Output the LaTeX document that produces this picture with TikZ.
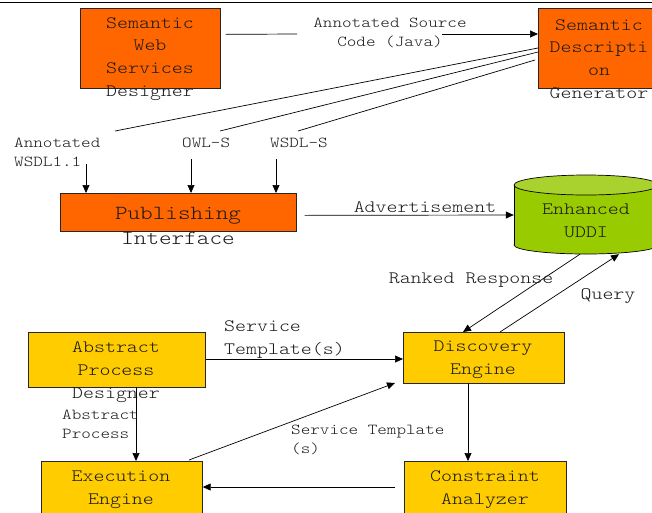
\documentclass[tikz,border=0pt]{standalone}
\usepackage{fontspec}
\newfontfamily\typewriter{lmmonolt10-regular.otf}[FakeStretch=1.2]
\usetikzlibrary{arrows.meta,calc}
\definecolor{orangefill}{HTML}{FF6600}
\definecolor{yellowfill}{HTML}{FFCC00}
\definecolor{uddibody}{HTML}{99CC00}
\definecolor{uddilid}{HTML}{AAD22E}
\definecolor{ink}{HTML}{1A1A1A}
\begin{document}
\begin{tikzpicture}[x=1pt,y=-1pt,
  box/.style={draw=black!85, line width=0.7pt, inner sep=0pt, anchor=north west},
  obox/.style={box, fill=orangefill},
  ybox/.style={box, fill=yellowfill},
  boxtext/.style={font=\typewriter\fontsize{17.4}{22.8}\selectfont, align=center, text=ink, inner sep=0pt},
  bigtext/.style={font=\typewriter\fontsize{20}{25}\selectfont, align=center, text=ink, inner sep=0pt},
  lbl/.style={font=\typewriter\fontsize{15.2}{19}\selectfont, text=ink, inner sep=0pt},
  lblmid/.style={font=\typewriter\fontsize{17.4}{23}\selectfont, text=ink, inner sep=0pt},
  link/.style={line width=0.7pt},
  arr/.style={link, -{Triangle[length=8pt,width=7pt]}}
]
\clip (0,0) rectangle (652,512);
\useasboundingbox (0,0) rectangle (652,512);

% top rule
\coordinate (ruleL) at (0,2);
\coordinate (ruleR) at (652,2);
\draw[link] (ruleL) -- (ruleR);

% ---- boxes ----
\node[obox, minimum width=140pt, minimum height=80pt] (swsd) at (80,8) {};
\node[boxtext] (swsdT) at (150,59) {Semantic\\Web\\Services\\Designer};

\node[obox, minimum width=124pt, minimum height=80pt] (sdg) at (538,8) {};
\node[boxtext] (sdgT) at (599,59) {Semantic\\Descripti\\on\\Generator};

\node[obox, minimum width=236pt, minimum height=38pt] (pub) at (60,193) {};
\node[bigtext] (pubT) at (178,226) {Publishing\\Interface};

\node[ybox, minimum width=161pt, minimum height=51pt] (disc) at (403,332) {};
\node[boxtext] (discT) at (483,360) {Discovery\\Engine};

\node[ybox, minimum width=177pt, minimum height=55pt] (apd) at (28,332) {};
\node[boxtext] (apdT) at (116,372) {Abstract\\Process\\Designer};

\node[ybox, minimum width=161pt, minimum height=60pt] (exec) at (41,461) {};
\node[boxtext] (execT) at (121,490) {Execution\\Engine};

\node[ybox, minimum width=162pt, minimum height=60pt] (cons) at (404,461) {};
\node[boxtext] (consT) at (485,490) {Constraint\\Analyzer};

% ---- Enhanced UDDI cylinder ----
\fill[uddibody, draw=black, line width=0.7pt] (586,245) ellipse [x radius=72pt, y radius=9pt];
\fill[uddibody] (514,185) rectangle (658,245);
\draw[link] (514,185) -- (514,245);
\draw[link] (658,185) -- (658,245);
\filldraw[fill=uddilid, draw=black, line width=0.7pt] (586,185) ellipse [x radius=72pt, y radius=10pt];
\node[inner sep=0pt, minimum width=144pt, minimum height=80pt] (uddi) at (586,214) {};
\node[boxtext] (uddiT) at (586,221) {Enhanced\\UDDI};

% ---- source code link ----
\coordinate (srcA) at ($(swsd.east)+(5,-14)$);
\coordinate (srcB) at (297,34);
\coordinate (srcC) at (442,34);
\draw[link] (srcA) -- (srcB);
\draw[arr] (srcC) -- (sdg.west |- srcC);
\node[lbl, align=center] (srcL) at (390,33) {Annotated Source\\Code (Java)};

% ---- generated descriptions ----
\coordinate (wsdlEnd) at (115,131);
\coordinate (owlEnd) at (220,131);
\coordinate (wsdlsEnd) at (298,131);
\draw[link] ($(sdg.north west)+(0,40)$) -- (wsdlEnd);
\draw[link] ($(sdg.north west)+(0,44)$) -- (owlEnd);
\draw[link] ($(sdg.north west)+(-3,52)$) -- (wsdlsEnd);

\node[lbl, align=left, anchor=west] (wsdlL) at (14,152) {Annotated\\WSDL1.1};
\node[lbl, anchor=west] (owlL) at (182,143) {OWL-S};
\node[lbl, anchor=west] (wsdlsL) at (270,143) {WSDL-S};

\coordinate (inA) at (86,164);
\coordinate (inB) at (191,159);
\coordinate (inC) at (276,159);
\draw[arr] (inA) -- (inA |- pub.north);
\draw[arr] (inB) -- (inB |- pub.north);
\draw[arr] (inC) -- (inC |- pub.north);

% ---- advertisement ----
\draw[arr] ($(pub.east)+(8,3)$) -- (uddi.west |- 0,215);
\node[lblmid] (advL) at (425,207) {Advertisement};

% ---- discovery <-> UDDI ----
\draw[arr] ($(uddi.south)+(-6,0)$) -- ($(disc.north west)+(60,0)$);
\draw[arr] ($(disc.north west)+(97,0)$) -- ($(uddi.south)+(33,0)$);
\node[lblmid] (rankL) at (471,280) {Ranked Response};
\node[lblmid] (queryL) at (608,296) {Query};

% ---- service templates ----
\draw[arr] (apd.east |- 0,359) -- (disc.west |- 0,359);
\node[lblmid, align=left, anchor=west] (stL) at (224,340) {Service\\Template(s)};

\draw[arr] (136,387) -- (136,461);
\node[lbl, align=left, anchor=west] (apL) at (62,424) {Abstract\\Process};

\draw[arr] (189,460) -- (395,383);
\node[lbl, align=left, anchor=west] (st2L) at (291,440) {Service Template\\(s)};

\draw[arr] (468,383) -- (468,461);
\draw[arr] (395,487) -- (exec.east |- 0,487);
\end{tikzpicture}
\end{document}
